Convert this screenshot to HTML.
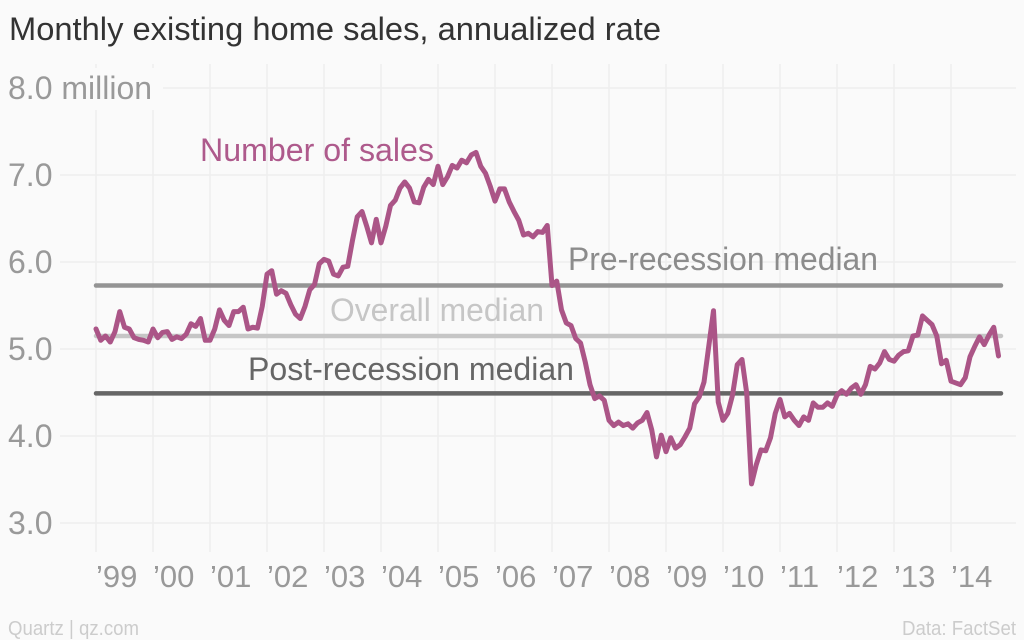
<!DOCTYPE html>
<html lang="en">
<head>
<meta charset="utf-8">
<title>Monthly existing home sales, annualized rate</title>
<style>
html,body{margin:0;padding:0;background:#fafafa;}
svg{display:block;font-family:"Liberation Sans",sans-serif;}
</style>
</head>
<body>
<svg id="chart" width="1024" height="640" viewBox="0 0 1024 640" xmlns="http://www.w3.org/2000/svg">
  <rect x="0" y="0" width="1024" height="640" fill="#fafafa"/>
  <g id="grid"></g>
  <rect x="0" y="68" width="163" height="42" fill="#fafafa"/>
  <g id="yticks"></g>
  <g id="xticks"></g>
  <g id="medians"></g>
  <path id="sales-line" fill="none" stroke="#ab5587" stroke-width="5" stroke-linejoin="round" stroke-linecap="round"/>
  <text x="9" y="40" font-size="32" fill="#333333" textLength="652" lengthAdjust="spacingAndGlyphs">Monthly existing home sales, annualized rate</text>
  <text x="200" y="161" font-size="32" fill="#ae5a8c" textLength="234" lengthAdjust="spacingAndGlyphs">Number of sales</text>
  <text x="568" y="270" font-size="32" fill="#8c8c8c" textLength="310" lengthAdjust="spacingAndGlyphs">Pre-recession median</text>
  <text x="330" y="321" font-size="32" fill="#c6c6c6" textLength="214" lengthAdjust="spacingAndGlyphs">Overall median</text>
  <text x="248" y="380" font-size="32" fill="#666666" textLength="326" lengthAdjust="spacingAndGlyphs">Post-recession median</text>
  <text x="8" y="635" font-size="20" fill="#cccccc" textLength="131" lengthAdjust="spacingAndGlyphs">Quartz | qz.com</text>
  <text x="902" y="635" font-size="20" fill="#cccccc" textLength="114" lengthAdjust="spacingAndGlyphs">Data: FactSet</text>
</svg>
<script>
const yearLabels = ["\u201999","\u201900","\u201901","\u201902","\u201903","\u201904","\u201905","\u201906","\u201907","\u201908","\u201909","\u201910","\u201911","\u201912","\u201913","\u201914"];
const yTickValues = [3,4,5,6,7,8];
const yTickLabels = ["3.0","4.0","5.0","6.0","7.0","8.0 million"];
const medianNames = ["pre-recession-median-line","overall-median-line","post-recession-median-line"];
const medianValues = [5.73,5.15,4.49];
const medianColors = ["#949494","#c6c6c6","#666666"];
const salesValues = [
5.23,5.10,5.15,5.08,5.20,5.43,5.25,5.23,5.13,5.11,5.10,5.08,
5.23,5.13,5.19,5.20,5.11,5.14,5.12,5.17,5.29,5.26,5.35,5.10,
5.10,5.23,5.45,5.33,5.27,5.43,5.43,5.48,5.23,5.25,5.24,5.49,
5.86,5.90,5.63,5.67,5.64,5.51,5.40,5.35,5.49,5.68,5.74,5.98,
6.03,6.01,5.86,5.84,5.94,5.95,6.25,6.52,6.58,6.41,6.22,6.49,
6.22,6.41,6.65,6.71,6.85,6.92,6.85,6.69,6.68,6.86,6.95,6.89,
7.10,6.89,6.98,7.11,7.08,7.17,7.14,7.23,7.26,7.10,7.02,6.87,
6.70,6.84,6.84,6.69,6.58,6.48,6.31,6.33,6.29,6.35,6.34,6.42,
5.73,5.78,5.45,5.30,5.27,5.12,5.07,4.85,4.59,4.43,4.46,4.41,
4.18,4.12,4.16,4.12,4.14,4.09,4.15,4.18,4.27,4.07,3.76,4.01,
3.82,3.98,3.86,3.90,3.99,4.09,4.37,4.45,4.62,5.03,5.44,4.39,
4.18,4.26,4.47,4.82,4.88,4.49,3.45,3.67,3.84,3.83,3.98,4.26,
4.42,4.22,4.26,4.18,4.12,4.22,4.18,4.38,4.33,4.33,4.38,4.34,
4.47,4.52,4.48,4.55,4.59,4.48,4.59,4.80,4.77,4.84,4.97,4.88,
4.86,4.93,4.97,4.98,5.15,5.16,5.38,5.33,5.28,5.15,4.83,4.87,
4.63,4.61,4.59,4.67,4.91,5.03,5.14,5.05,5.16,5.25,4.92
];

const SVG_NS = "http://www.w3.org/2000/svg";
const xScale = function (monthIndex) { return 96 + monthIndex * 57 / 12; };
const yScale = function (value) { return 523 - (value - 3) * 87; };

const grid = document.getElementById("grid");
const yTicks = document.getElementById("yticks");
const xTicks = document.getElementById("xticks");
const medians = document.getElementById("medians");

yTickValues.forEach(function (value, i) {
  const line = document.createElementNS(SVG_NS, "line");
  
  
  line.setAttribute("x1", i === yTickValues.length - 1 ? 163 : 60);
  line.setAttribute("x2", 1016);
  line.setAttribute("y1", yScale(value));
  line.setAttribute("y2", yScale(value));
  line.setAttribute("stroke", "#eeeeee");
  line.setAttribute("stroke-width", "1.5");
  grid.appendChild(line);

  const label = document.createElementNS(SVG_NS, "text");
  
  
  label.setAttribute("x", 8);
  label.setAttribute("y", yScale(value) + 11);
  label.setAttribute("font-size", "32");
  label.setAttribute("fill", "#999999");
  label.textContent = yTickLabels[i];
  yTicks.appendChild(label);
});

yearLabels.forEach(function (text, i) {
  const x = xScale(i * 12);
  const line = document.createElementNS(SVG_NS, "line");
  
  
  line.setAttribute("x1", x);
  line.setAttribute("x2", x);
  line.setAttribute("y1", 64);
  line.setAttribute("y2", 552);
  line.setAttribute("stroke", "#eeeeee");
  line.setAttribute("stroke-width", "1.5");
  grid.appendChild(line);

  const label = document.createElementNS(SVG_NS, "text");
  
  
  label.setAttribute("x", x);
  label.setAttribute("y", 587);
  label.setAttribute("font-size", "31");
  label.setAttribute("fill", "#999999");
  label.textContent = text;
  xTicks.appendChild(label);
});

medianValues.forEach(function (value, i) {
  const line = document.createElementNS(SVG_NS, "line");
  
  
  line.setAttribute("x1", 96);
  line.setAttribute("x2", 1001);
  line.setAttribute("y1", yScale(value));
  line.setAttribute("y2", yScale(value));
  line.setAttribute("stroke", medianColors[i]);
  line.setAttribute("stroke-width", "4.5");
  line.setAttribute("stroke-linecap", "round");
  medians.appendChild(line);
});

document.getElementById("sales-line").setAttribute("d", salesValues.map(function (value, i) {
  return (i ? "L" : "M") + xScale(i).toFixed(2) + " " + yScale(value).toFixed(2);
}).join(""));
</script>
</body>
</html>
